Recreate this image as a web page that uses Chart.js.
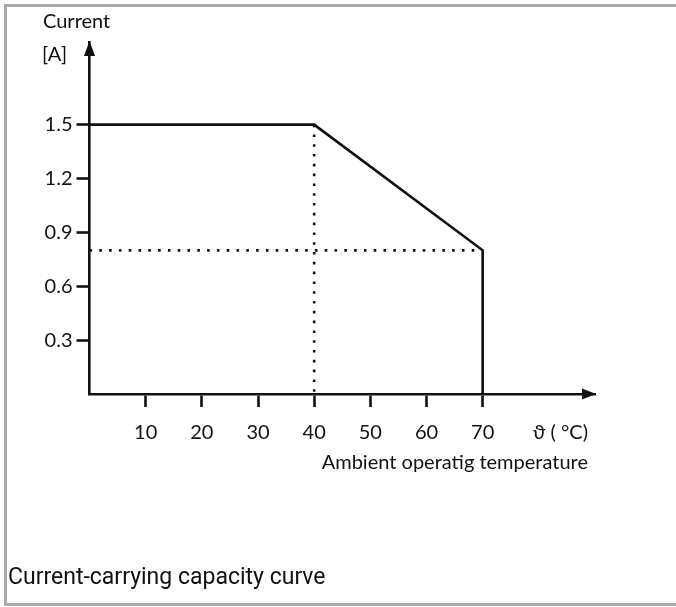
<!DOCTYPE html>
<html>
<head>
<meta charset="utf-8">
<script src="https://cdn.jsdelivr.net/npm/chart.js@4.4.1/dist/chart.umd.min.js"></script>
<style>
  html, body { margin: 0; padding: 0; background: #fff; }
  body { width: 676px; height: 607px; position: relative; overflow: hidden; }
  #frame {
    position: absolute; left: 4px; top: 4px; width: 700px; height: 596px;
    border: 3px solid #a9a9a9; border-right: none;
  }
  #wrap { position: absolute; left: 0; top: 0; width: 676px; height: 607px; }
  #caption {
    position: absolute; left: 8px; top: 563px; line-height: 28px;
    font-family: Roboto, sans-serif; font-size: 23px; color: #111;
  }
</style>
</head>
<body>
<div id="frame"></div>
<div id="wrap"><canvas id="deratingChart" width="676" height="607"></canvas></div>
<div id="caption">Current-carrying capacity curve</div>
<script>
// derating curve (ambient temperature in °C -> max current in A)
const tempC = [0, 40, 70, 70];
const currentA = [1.5, 1.5, 0.8, 0];
// knee points for the dotted guide lines
const kneeTemp = 40;
const kneeCurrent = 1.5;
const endTemp = 70;
const endCurrent = 0.8;
// tick labels
const xTicks = [10, 20, 30, 40, 50, 60, 70];
const yTicks = [0.3, 0.6, 0.9, 1.2, 1.5];

const axisFont = 'Lato, sans-serif';
const ink = '#111';

const curve = tempC.map((t, i) => ({ x: t, y: currentA[i] }));
const vGuide = [{ x: kneeTemp, y: kneeCurrent }, { x: kneeTemp, y: 0 }];
const hGuide = [{ x: 0, y: endCurrent }, { x: endTemp, y: endCurrent }];

const axisDecor = {
    id: 'axisDecor',
    afterDraw(chart) {
        const { ctx, chartArea: a, scales } = chart;
        const x0 = scales.x.getPixelForValue(0);
        const y0 = scales.y.getPixelForValue(0);
        ctx.save();
        ctx.fillStyle = ink;
        // arrow heads
        ctx.beginPath();
        ctx.moveTo(x0, a.top - 1);
        ctx.lineTo(x0 - 5.5, a.top + 14);
        ctx.lineTo(x0 + 5.5, a.top + 14);
        ctx.closePath();
        ctx.fill();
        ctx.beginPath();
        ctx.moveTo(a.right + 1, y0);
        ctx.lineTo(a.right - 13, y0 - 5.5);
        ctx.lineTo(a.right - 13, y0 + 5.5);
        ctx.closePath();
        ctx.fill();
        // axis titles
        ctx.font = '20px ' + axisFont;
        ctx.textBaseline = 'middle';
        ctx.textAlign = 'left';
        ctx.fillText('Current', 43, 22);
        ctx.fillText('[A]', 42, 55);
        ctx.textAlign = 'right';
        ctx.fillText('\u03D1 ( \u00B0C)', 588, 433);
        ctx.fillText('Ambient operatig temperature', 588, 463);
        ctx.restore();
    }
};

const ctx = document.getElementById('deratingChart').getContext('2d');
const myChart = new Chart(ctx, {
    type: 'line',
    data: {
        datasets: [{
            label: 'Current',
            data: curve,
            borderColor: ink,
            borderWidth: 2.6,
            pointRadius: 0,
            fill: false,
            clip: false
        }, {
            label: 'guide v',
            data: vGuide,
            borderColor: ink,
            borderWidth: 2.6,
            borderDash: [2.6, 7.2],
            pointRadius: 0,
            clip: false
        }, {
            label: 'guide h',
            data: hGuide,
            borderColor: ink,
            borderWidth: 2.6,
            borderDash: [2.6, 7.2],
            pointRadius: 0,
            clip: false
        }]
    },
    options: {
        responsive: false,
        animation: false,
        layout: { padding: { left: 0, top: 42, right: 81, bottom: 0 } },
        plugins: {
            legend: { display: false },
            tooltip: { enabled: false }
        },
        scales: {
            x: {
                type: 'linear',
                min: 0,
                max: 90,
                afterBuildTicks: (s) => { s.ticks = xTicks.map(v => ({ value: v })); },
                afterFit: (s) => { s.height = 213; },
                border: { display: true, color: ink, width: 2.6 },
                grid: { drawOnChartArea: false, drawTicks: true, tickLength: 13, tickColor: ink, tickWidth: 2.6 },
                ticks: { color: ink, font: { family: axisFont, size: 20 }, padding: 14, maxRotation: 0 }
            },
            y: {
                type: 'linear',
                min: 0,
                max: 1.96,
                afterBuildTicks: (s) => { s.ticks = yTicks.map(v => ({ value: v })); },
                afterFit: (s) => { s.width = 89.5; },
                border: { display: true, color: ink, width: 2.6 },
                grid: { drawOnChartArea: false, drawTicks: true, tickLength: 13, tickColor: ink, tickWidth: 2.6 },
                ticks: { color: ink, font: { family: axisFont, size: 20 }, padding: 4, callback: (v) => v.toFixed(1) }
            }
        }
    },
    plugins: [axisDecor]
});
</script>
</body>
</html>
